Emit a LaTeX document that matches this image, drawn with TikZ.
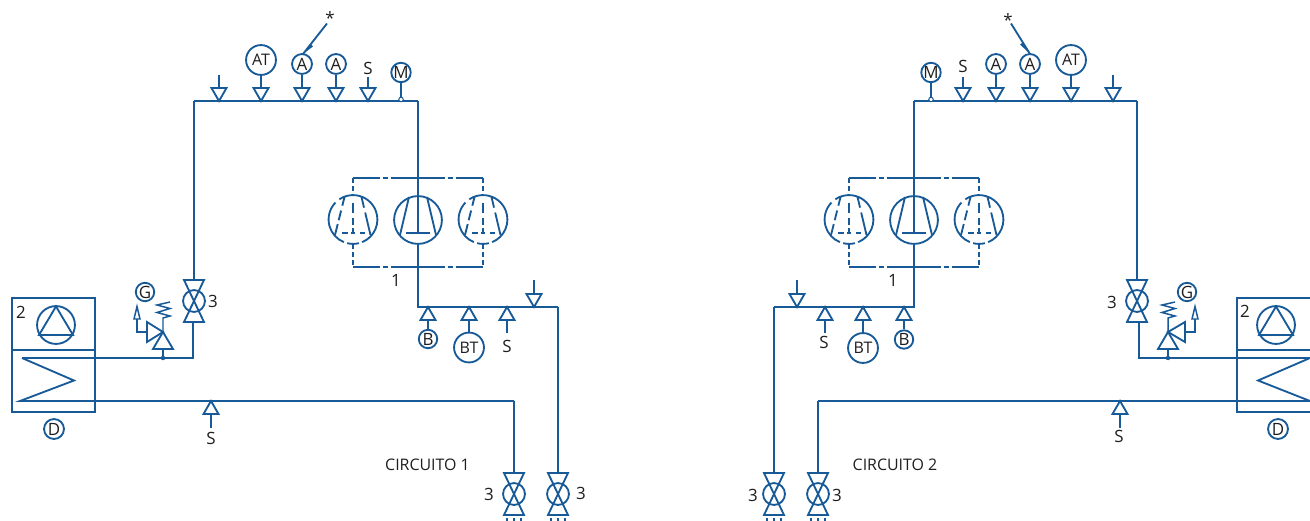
\documentclass[tikz,border=0pt]{standalone}
\usepackage{fontspec}
\setmainfont{Open Sans}
\definecolor{pipe}{HTML}{175A97}
\definecolor{ink}{HTML}{1E1E1E}
\tikzset{
  pipeline/.style={draw=pipe,line width=1.85pt,line join=miter},
  chain/.style={pipeline,dash pattern=on 27pt off 3pt on 5pt off 3pt},
  lbl/.style={text=ink,font=\fontsize{17}{17}\selectfont,inner sep=0pt},
  wide/.style={text=ink,font=\fontsize{16}{16}\selectfont,inner sep=0pt},
  inst/.style={circle,draw=pipe,line width=1.85pt,text=ink,font=\fontsize{17}{17}\selectfont,inner sep=0pt,minimum size=20pt},
  instS/.style={inst,minimum size=18.5pt},
  instL/.style={inst,minimum size=30pt,font=\fontsize{16}{16}\selectfont},
  dot/.style={circle,fill=pipe,draw=pipe,inner sep=0pt,minimum size=4pt},
  ring/.style={circle,fill=white,draw=pipe,line width=1pt,inner sep=0pt,minimum size=4.5pt},
  comp/.style={circle,draw=pipe,line width=1.85pt,inner sep=0pt,minimum size=48pt},
  compdash/.style={circle,inner sep=0pt,outer sep=0pt,minimum size=49pt},
  broken/.style={pipeline,dash pattern=on 5pt off 3pt},
}
\newcommand\tdown[3]{\coordinate (#1) at (#2,#3);\coordinate (#1-t) at (#2,#3-13);
  \draw[pipeline] (#2-7.5,#3-13) -- (#2+7.5,#3-13) -- (#2,#3) -- cycle;}
\newcommand\tup[3]{\coordinate (#1) at (#2,#3);\coordinate (#1-t) at (#2,#3+13);
  \draw[pipeline] (#2-7.5,#3+13) -- (#2+7.5,#3+13) -- (#2,#3) -- cycle;}
\newcommand\valve[3]{\node[inst,minimum size=22pt] (#1) at (#2,#3) {};
  \coordinate (#1-t) at (#2,#3-21);\coordinate (#1-b) at (#2,#3+21);
  \draw[pipeline] (#2-10,#3-21) -- (#2+10,#3-21) -- (#2-10,#3+21) -- (#2+10,#3+21) -- cycle;}
\newcommand\compmain[2]{\node[comp] (#1) at (#2,220) {};
  \coordinate (#1-a) at (#2,196);\coordinate (#1-b) at (#2,244);
  \draw[pipeline] (#2-9,197) -- (#2-18,235) (#2+9,197) -- (#2+18,235);
  \draw[pipeline] (#2,196) -- (#2,233) (#2-12,233) -- (#2+12,233);}
\newcommand\compaux[2]{\node[compdash] (#1) at (#2,219.5) {};
  \coordinate (#1-a) at (#2,195);\coordinate (#1-b) at (#2,244);
  \draw[pipeline] (#1.136) arc[start angle=136,end angle=248,radius=24.5pt];
  \draw[pipeline] (#1.256) arc[start angle=256,end angle=284,radius=24.5pt];
  \draw[pipeline] (#1.292) arc[start angle=292,end angle=484,radius=24.5pt];
  \draw[pipeline,dash pattern=on 9pt off 5pt on 10pt off 4pt on 12pt off 10pt] (#2-8.5,197) -- (#2-18,235);
  \draw[pipeline,dash pattern=on 11pt off 5pt on 26pt off 10pt] (#2+8.5,197) -- (#2+17.5,235);
  \draw[pipeline,dash pattern=on 10pt off 5pt on 7pt off 3pt on 6pt off 10pt] (#2,203) -- (#2,233);
  \draw[pipeline,dash pattern=on 6pt off 3pt on 4pt off 5pt on 6pt off 10pt] (#2-11,233) -- (#2+12,233);}
\newcommand\stubs[2]{\draw[pipeline,line width=1.3pt] (#1-7,#2) -- (#1-7,521) (#1,#2) -- (#1,521) (#1+7,#2) -- (#1+7,521);}
\begin{document}
\begin{tikzpicture}[x=1bp,y=-1bp]
\useasboundingbox (0,0) rectangle (1310,521);
%%%%%%%%%%%%% CIRCUIT 1
\coordinate (c1tl) at (194,101);\coordinate (c1tr) at (418,101);
\draw[pipeline] (c1tl) -- (c1tr);
\tdown{a1}{219}{101}\coordinate (a1s) at (219,75);\draw[pipeline] (a1s) -- (a1-t);
\tdown{a2}{261}{101}\node[instL] (at1) at (261,60) {AT};\draw[pipeline] (at1) -- (a2-t);
\tdown{a3}{302}{101}\node[inst] (aa1) at (302,64) {A};\draw[pipeline] (aa1) -- (a3-t);
\tdown{a4}{336}{101}\node[inst] (ab1) at (336,64) {A};\draw[pipeline] (ab1) -- (a4-t);
\tdown{a5}{368}{101}\node[lbl] (s1) at (368,68) {S};\coordinate (s1s) at (368,77);\draw[pipeline] (s1s) -- (a5-t);
\node[instS] (m1) at (401,72.5) {M};\node[ring] (mr1) at (401,99.5) {};\draw[pipeline] (m1) -- (mr1);
\node[lbl] (st1) at (330,18) {*};
\coordinate (st1a) at (327,23.5);\coordinate (st1b) at (303,54);
\draw[pipeline] (st1a) -- (st1b);
\fill[pipe] (303,54) -- (310.3,43.6) -- (313.1,46.4) -- cycle;
\compaux{k1}{353}\compmain{k2}{418}\compaux{k3}{483}
\coordinate (f1) at (353,178);\coordinate (f2) at (418,178);\coordinate (f3) at (483,178);
\coordinate (g1) at (353,267);\coordinate (g2) at (418,267);\coordinate (g3) at (483,267);
\draw[chain] (f1) -- (f2);\draw[chain] (f3) -- (f2);\draw[chain] (g1) -- (g2);\draw[chain] (g3) -- (g2);
\draw[broken] (f1) -- (k1-a) (k1-b) -- (g1) (f3) -- (k3-a) (k3-b) -- (g3);
\draw[pipeline] (c1tr) -- (k2-a);
\coordinate (c1m) at (418,307);\coordinate (c1e) at (558,307);
\draw[pipeline] (k2-b) -- (c1m) -- (c1e);
\node[lbl] (n1) at (396,280.5) {1};
\tup{b1}{428}{307}\node[instS] (bb1) at (428,339) {B};\draw[pipeline] (b1-t) -- (bb1);
\tup{b2}{469}{307}\node[instL] (bt1) at (469,347.5) {BT};\draw[pipeline] (b2-t) -- (bt1);
\tup{b3}{507}{307}\node[lbl] (s2) at (507,346) {S};\coordinate (s2s) at (507,333);\draw[pipeline] (b3-t) -- (s2s);
\tdown{b4}{534}{307}\coordinate (b4s) at (534,280);\draw[pipeline] (b4s) -- (b4-t);
\valve{v1}{194}{301}\node[lbl] at (213,301) {3};
\draw[pipeline] (c1tl) -- (v1-t);
\coordinate (c1j) at (193,358);\coordinate (c1c) at (22,358);
\draw[pipeline] (193,322) -- (c1j) -- (c1c);
\draw[pipeline] (c1c) -- (74,380.5) -- (20,401) -- (514,401) coordinate (c1l);
\valve{v2}{514}{494}\node[lbl] at (489,494) {3};
\valve{v3}{558}{494}\node[lbl] at (581,493) {3};
\draw[pipeline] (c1l) -- (v2-t);\draw[pipeline] (c1e) -- (v3-t);
\stubs{514}{518}\stubs{558}{518}
\node[wide] (c1t) at (427.5,465) {CIRCUITO 1};
\draw[pipeline] (12,298) rectangle (95,412);\draw[pipeline] (12,350) -- (95,350);
\node[comp,minimum size=38pt] (fan1) at (56,325) {};
\draw[pipeline] (56,306.5) -- (73,335) -- (39,335) -- cycle;
\node[lbl] at (21,312) {2};
\node[inst] (d1) at (54,429) {D};
\tup{c1}{211}{401}\coordinate (c1s) at (211,428);\draw[pipeline] (c1-t) -- (c1s);\node[lbl] at (211,438.5) {S};
\node[dot] (j1) at (163,358) {};
\coordinate (r1) at (163,332);
\draw[pipeline] (j1) -- (163,349);
\draw[pipeline] (153,349) -- (173,349) -- (r1) -- cycle;
\draw[pipeline] (r1) -- (147,322) -- (147,342) -- cycle;
\draw[pipeline,line width=1.5pt] (r1) -- (163,318) -- (170,316) -- (157,312.5) -- (170,308.5) -- (157,305) -- (170,302);
\draw[pipeline] (147,332) -- (137,332) -- (137,319);
\draw[pipeline,line width=1.5pt] (134,319) -- (140,319) -- (137,306.5) -- cycle;
\node[instS] (g1c) at (145,292) {G};
%%%%%%%%%%%%% CIRCUIT 2
\coordinate (c2tl) at (914,101);\coordinate (c2tr) at (1137,101);
\draw[pipeline] (c2tl) -- (c2tr);
\node[instS] (m2) at (931,72.5) {M};\node[ring] (mr2) at (931,99.5) {};\draw[pipeline] (m2) -- (mr2);
\tdown{e5}{963}{101}\node[lbl] (s3) at (963,66) {S};\coordinate (s3s) at (963,77);\draw[pipeline] (s3s) -- (e5-t);
\tdown{e4}{996}{101}\node[inst] (ab2) at (996,64) {A};\draw[pipeline] (ab2) -- (e4-t);
\tdown{e3}{1030}{101}\node[inst] (aa2) at (1030,64) {A};\draw[pipeline] (aa2) -- (e3-t);
\tdown{e2}{1071}{101}\node[instL] (at2) at (1071,60) {AT};\draw[pipeline] (at2) -- (e2-t);
\tdown{e1}{1113}{101}\coordinate (e1s) at (1113,75);\draw[pipeline] (e1s) -- (e1-t);
\node[lbl] (st2) at (1008,20) {*};
\coordinate (st2a) at (1011,23.5);\coordinate (st2b) at (1030,54);
\draw[pipeline] (st2a) -- (st2b);
\fill[pipe] (1030,54) -- (1020.1,44.5) -- (1023.3,42.1) -- cycle;
\compaux{q1}{849}\compmain{q2}{914}\compaux{q3}{979}
\coordinate (h1) at (849,178);\coordinate (h2) at (914,178);\coordinate (h3) at (979,178);
\coordinate (i1) at (849,267);\coordinate (i2) at (914,267);\coordinate (i3) at (979,267);
\draw[chain] (h1) -- (h2);\draw[chain] (h3) -- (h2);\draw[chain] (i1) -- (i2);\draw[chain] (i3) -- (i2);
\draw[broken] (h1) -- (q1-a) (q1-b) -- (i1) (h3) -- (q3-a) (q3-b) -- (i3);
\draw[pipeline] (c2tl) -- (q2-a);
\coordinate (c2m) at (914,307);\coordinate (c2e) at (774,307);
\draw[pipeline] (q2-b) -- (c2m) -- (c2e);
\node[lbl] (n2) at (893,280.5) {1};
\tup{f4}{904}{307}\node[instS] (bb2) at (904,339.5) {B};\draw[pipeline] (f4-t) -- (bb2);
\tup{f5}{863}{307}\node[instL] (bt2) at (863,348) {BT};\draw[pipeline] (f5-t) -- (bt2);
\tup{f6}{825}{307}\node[lbl] (s4) at (824,342) {S};\coordinate (s4s) at (825,333);\draw[pipeline] (f6-t) -- (s4s);
\tdown{f7}{797}{307}\coordinate (f7s) at (797,280);\draw[pipeline] (f7s) -- (f7-t);
\valve{v4}{1137}{301}\node[lbl] at (1112,302) {3};
\draw[pipeline] (c2tr) -- (v4-t);
\coordinate (c2j) at (1139,358);\coordinate (c2c) at (1310,358);
\draw[pipeline] (1139,322) -- (c2j) -- (c2c);
\coordinate (c2l) at (818,401);\coordinate (c2r) at (1310,401);
\draw[pipeline] (c2r) -- (c2l);
\draw[pipeline] (c2c) -- (1258,380.5) -- (c2r);
\valve{v5}{774}{494}\node[lbl] at (753,495) {3};
\valve{v6}{818}{494}\node[lbl] at (837,495) {3};
\draw[pipeline] (c2e) -- (v5-t);\draw[pipeline] (c2l) -- (v6-t);
\stubs{774}{518}\stubs{818}{518}
\node[wide] (c2t) at (895,465) {CIRCUITO 2};
\draw[pipeline] (1310,298) -- (1237,298) -- (1237,412) -- (1310,412);
\draw[pipeline] (1237,350) -- (1310,350);
\node[comp,minimum size=38pt] (fan2) at (1276,325) {};
\draw[pipeline] (1276,306.5) -- (1293,335) -- (1259,335) -- cycle;
\node[lbl] at (1245,311) {2};
\node[inst] (d2) at (1278,429) {D};
\tup{d3}{1120}{401}\coordinate (d3s) at (1120,428);\draw[pipeline] (d3-t) -- (d3s);\node[lbl] at (1119,436.5) {S};
\node[dot] (j2) at (1168,358) {};
\coordinate (r2) at (1168,332);
\draw[pipeline] (j2) -- (1168,349);
\draw[pipeline] (1158,349) -- (1178,349) -- (r2) -- cycle;
\draw[pipeline] (r2) -- (1185,322) -- (1185,342) -- cycle;
\draw[pipeline,line width=1.5pt] (r2) -- (1168,318) -- (1175,316) -- (1162,312.5) -- (1175,308.5) -- (1162,305) -- (1175,302);
\draw[pipeline] (1185,332) -- (1195,332) -- (1195,319);
\draw[pipeline,line width=1.5pt] (1192,319) -- (1198,319) -- (1195,306.5) -- cycle;
\node[instS] (g2c) at (1187,292) {G};
\end{tikzpicture}
\end{document}
